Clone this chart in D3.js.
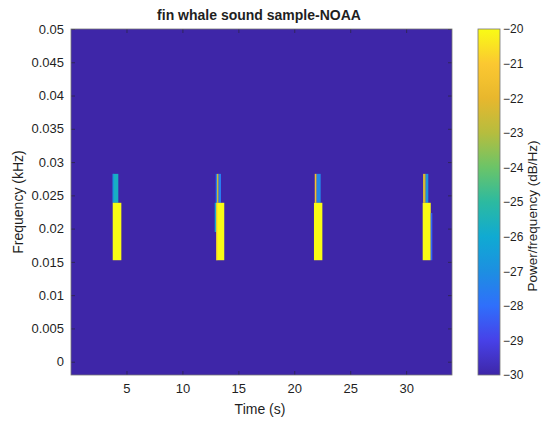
<!DOCTYPE html>
<html><head><meta charset="utf-8">
<script src="https://cdn.jsdelivr.net/npm/d3@7"></script>
<style>
html,body{margin:0;padding:0;background:#fff;}
text{font-family:"Liberation Sans",Arial,Helvetica,sans-serif;fill:#1f1f1f;}
</style></head>
<body>
<svg id="chart" width="542" height="422"></svg>
<script>
// ---- data ----
const timeDomain = [0.04, 34.1];
const freqDomain = [-0.002, 0.05];
const dbDomain = [-30, -20];
const xTicks = [5, 10, 15, 20, 25, 30];
const yTicks = [0, 0.005, 0.01, 0.015, 0.02, 0.025, 0.03, 0.035, 0.04, 0.045, 0.05];
const yTickLabels = ["0","0.005","0.01","0.015","0.02","0.025","0.03","0.035","0.04","0.045","0.05"];
const cTicks = [-30,-29,-28,-27,-26,-25,-24,-23,-22,-21,-20];
const background = -30;
// spectrogram cells (time start/end in s, freq low/high in kHz, power dB/Hz)
const cellT0 = [3.77, 3.77, 3.77,   12.98, 13.09, 13.24, 12.89, 13.03, 13.03,   21.83, 22.00, 21.76,   31.51, 31.75, 31.48, 32.20];
const cellT1 = [4.27, 3.88, 4.54,   13.09, 13.24, 13.45, 13.03, 13.74, 13.12,   22.00, 22.36, 22.51,   31.75, 31.98, 32.20, 32.34];
const cellF0 = [0.02388,0.02388,0.01525, 0.02388,0.02388,0.02388,0.01949,0.01525,0.01525, 0.02388,0.02388,0.01525, 0.02388,0.02388,0.01525,0.01525];
const cellF1 = [0.02823,0.02823,0.02388, 0.02823,0.02823,0.02823,0.02388,0.02388,0.02388, 0.02823,0.02823,0.02388, 0.02823,0.02823,0.02388,0.02234];
const cellDB = [-25.7, -26.8, -20,      -27.6, -22.6, -27.6, -25.8, -20, -21.2,           -21.4, -27.3, -20,        -22.4, -26.8, -20, -28.2];

// parula colormap stops
const parulaStops = ["#3e26a8","#4741e8","#2f6ffb","#1d8fe1","#10aad2","#2cbaa0","#6bc468","#b6bd3e","#e8b72d","#fbc831","#f9fb15"];

// ---- layout ----
const svg = d3.select("#chart");
const L = 71, R = 452, T = 29, B = 375;
const CL = 478, CR = 500;

const x = d3.scaleLinear().domain(timeDomain).range([L, R]);
const y = d3.scaleLinear().domain(freqDomain).range([B, T]);
const interp = d3.piecewise(d3.interpolateRgb, parulaStops);
const color = d3.scaleSequential(interp).domain(dbDomain).clamp(true);
const cy = d3.scaleLinear().domain(dbDomain).range([B, T]);

// background
svg.append("rect").attr("x", L).attr("y", T).attr("width", R - L).attr("height", B - T)
  .attr("fill", color(background));

// cells
const cells = cellT0.map((t0, i) => ({t0, t1: cellT1[i], f0: cellF0[i], f1: cellF1[i], v: cellDB[i]}));
svg.append("g").selectAll("rect").data(cells).join("rect")
  .attr("x", d => x(d.t0)).attr("width", d => x(d.t1) - x(d.t0))
  .attr("y", d => y(d.f1)).attr("height", d => y(d.f0) - y(d.f1))
  .attr("fill", d => color(d.v));

// axes
const fmtY = d => yTickLabels[yTicks.indexOf(d)];
const axB = svg.append("g").attr("transform", `translate(0,${B})`)
  .call(d3.axisBottom(x).tickValues(xTicks).tickSize(-4).tickPadding(9));
const axT = svg.append("g").attr("transform", `translate(0,${T})`)
  .call(d3.axisTop(x).tickValues(xTicks).tickSize(-4).tickFormat(""));
const axL = svg.append("g").attr("transform", `translate(${L},0)`)
  .call(d3.axisLeft(y).tickValues(yTicks).tickFormat(fmtY).tickSize(-4).tickPadding(7));
const axR = svg.append("g").attr("transform", `translate(${R},0)`)
  .call(d3.axisRight(y).tickValues(yTicks).tickSize(-4).tickFormat(""));
[axB, axT, axL, axR].forEach(g => {
  g.select(".domain").remove();
  g.selectAll(".tick line").attr("stroke", "#262626").attr("stroke-width", 0.6);
  g.selectAll("text").attr("font-size", 13).attr("fill", "#1f1f1f")
    .style("font-family", "'Liberation Sans',Arial,sans-serif");
});
svg.append("rect").attr("x", L).attr("y", T).attr("width", R - L).attr("height", B - T)
  .attr("fill", "none").attr("stroke", "#777").attr("stroke-width", 0.8);

// colorbar
const defs = svg.append("defs");
const grad = defs.append("linearGradient").attr("id", "cbgrad")
  .attr("x1", 0).attr("y1", 1).attr("x2", 0).attr("y2", 0);
d3.range(0, 1.0001, 0.05).forEach(s => {
  grad.append("stop").attr("offset", s).attr("stop-color", interp(s));
});
svg.append("rect").attr("x", CL).attr("y", T).attr("width", CR - CL).attr("height", B - T)
  .attr("fill", "url(#cbgrad)").attr("stroke", "#777").attr("stroke-width", 0.8);
const axC = svg.append("g").attr("transform", `translate(${CR},0)`)
  .call(d3.axisRight(cy).tickValues(cTicks).tickSize(0).tickPadding(3));
axC.select(".domain").remove();
axC.selectAll("text").attr("font-size", 12).attr("fill", "#1f1f1f");

// titles
svg.append("text").attr("x", 259).attr("y", 20).attr("text-anchor", "middle")
  .attr("font-size", 14).attr("font-weight", "bold").text("fin whale sound sample-NOAA");
svg.append("text").attr("x", 260).attr("y", 414).attr("text-anchor", "middle")
  .attr("font-size", 14).text("Time (s)");
svg.append("text").attr("transform", "translate(23,202) rotate(-90)").attr("text-anchor", "middle")
  .attr("font-size", 14).text("Frequency (kHz)");
svg.append("text").attr("transform", "translate(537,216) rotate(-90)").attr("text-anchor", "middle")
  .attr("font-size", 13.5).text("Power/frequency (dB/Hz)");
</script>
</body></html>
